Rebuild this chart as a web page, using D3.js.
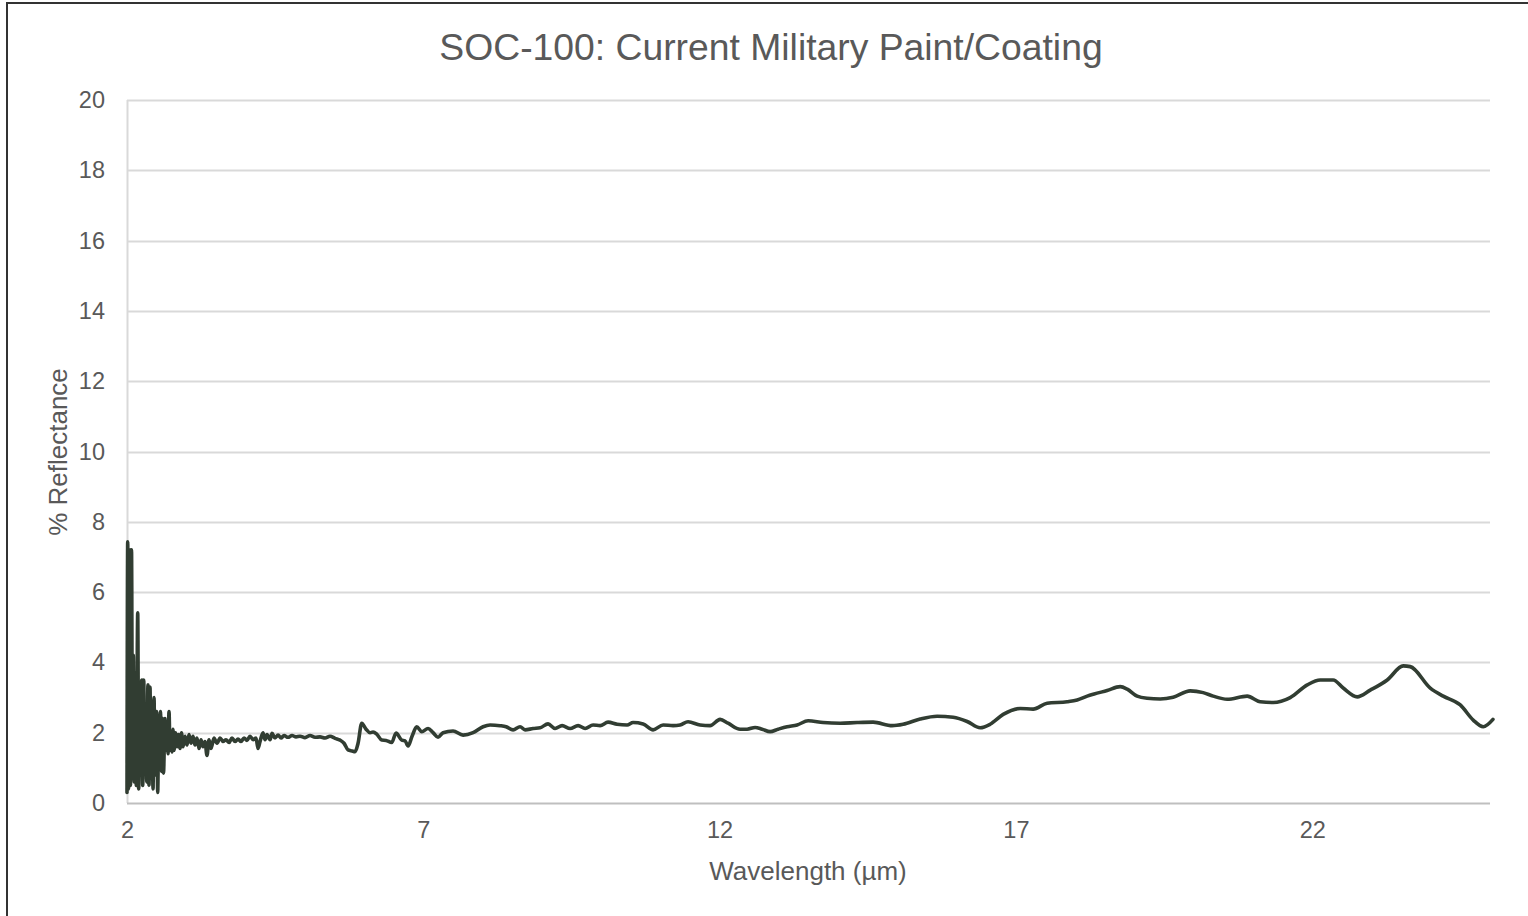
<!DOCTYPE html>
<html>
<head>
<meta charset="utf-8">
<script src="https://cdn.jsdelivr.net/npm/d3@7"></script>
<style>
  html, body { margin: 0; padding: 0; background: #ffffff; }
  svg { display: block; }
  text { font-family: "Liberation Sans", Arial, sans-serif; fill: #595959; }
</style>
</head>
<body>
<svg id="chart" width="1528" height="916"></svg>
<script>
// ---- Data ----
const chartTitle = "SOC-100: Current Military Paint/Coating";
const xAxisTitle = "Wavelength (\u00b5m)";
const yAxisTitle = "% Reflectance";
const xTicks = [2, 7, 12, 17, 22];
const yTicks = [0, 2, 4, 6, 8, 10, 12, 14, 16, 18, 20];

const wavelength = [
  2.000, 2.012, 2.025, 2.042, 2.059, 2.076, 2.093, 2.106, 2.123, 2.140,
  2.157, 2.181, 2.197, 2.214, 2.231, 2.248, 2.265, 2.282, 2.299, 2.316,
  2.332, 2.354, 2.371, 2.388, 2.405, 2.422, 2.439, 2.456, 2.473, 2.501,
  2.518, 2.535, 2.552, 2.565, 2.582, 2.599, 2.616, 2.641, 2.658, 2.675,
  2.692, 2.709, 2.726, 2.743, 2.760, 2.776, 2.793, 2.819, 2.844, 2.869,
  2.895, 2.920, 2.945, 2.979, 3.013, 3.046, 3.080, 3.114, 3.148, 3.181,
  3.215, 3.249, 3.282, 3.316, 3.350, 3.384, 3.418, 3.468, 3.519, 3.570,
  3.620, 3.671, 3.722, 3.772, 3.823, 3.873, 3.924, 3.975, 4.025, 4.076,
  4.127, 4.177, 4.211, 4.245, 4.295, 4.329, 4.363, 4.414, 4.447, 4.498,
  4.549, 4.599, 4.650, 4.717, 4.785, 4.852, 4.920, 5.004, 5.089, 5.173,
  5.257, 5.342, 5.426, 5.511, 5.595, 5.662, 5.730, 5.797, 5.848, 5.899,
  5.961, 6.034, 6.101, 6.152, 6.214, 6.299, 6.372, 6.467, 6.540, 6.636,
  6.692, 6.743, 6.810, 6.889, 6.974, 7.080, 7.165, 7.249, 7.333, 7.502,
  7.671, 7.840, 8.008, 8.127, 8.295, 8.397, 8.515, 8.633, 8.717, 8.852,
  8.970, 9.105, 9.224, 9.342, 9.477, 9.612, 9.730, 9.865, 9.983, 10.118,
  10.270, 10.439, 10.540, 10.709, 10.878, 11.046, 11.215, 11.333, 11.468, 11.671,
  11.840, 12.008, 12.143, 12.346, 12.464, 12.599, 12.717, 12.852, 12.987, 13.139,
  13.308, 13.494, 13.747, 14.034, 14.321, 14.591, 14.911, 15.097, 15.384, 15.671,
  15.941, 16.177, 16.397, 16.565, 16.785, 17.072, 17.291, 17.527, 17.865, 18.034,
  18.203, 18.320, 18.540, 18.760, 18.878, 19.046, 19.215, 19.435, 19.654, 19.941,
  20.160, 20.329, 20.565, 20.903, 21.122, 21.342, 21.629, 21.916, 22.135, 22.354,
  22.523, 22.759, 22.979, 23.266, 23.536, 23.654, 23.992, 24.211, 24.498, 24.717,
  24.886, 25.050
];

const reflectance = [
  0.30, 7.43, 0.40, 7.20, 0.50, 7.20, 0.70, 4.20, 0.60, 3.70,
  0.50, 5.41, 0.40, 3.00, 0.80, 3.50, 0.50, 3.50, 0.90, 2.80,
  0.60, 3.36, 0.50, 3.30, 0.70, 2.90, 0.40, 3.00, 0.80, 2.60,
  0.30, 2.20, 1.00, 2.60, 0.90, 2.40, 0.85, 2.40, 1.50, 2.20,
  1.40, 2.60, 1.50, 2.00, 1.45, 2.10, 1.50, 2.00, 1.60, 1.95,
  1.55, 2.00, 1.60, 1.90, 1.65, 1.95, 1.70, 1.90, 1.65, 1.85,
  1.55, 1.80, 1.60, 1.75, 1.35, 1.80, 1.55, 1.85, 1.70, 1.85,
  1.75, 1.80, 1.72, 1.85, 1.75, 1.82, 1.75, 1.85, 1.78, 1.90,
  1.80, 1.85, 1.55, 1.75, 2.00, 1.80, 1.95, 1.80, 1.98, 1.85,
  1.93, 1.85, 1.92, 1.87, 1.92, 1.88, 1.90, 1.86, 1.92, 1.87,
  1.88, 1.85, 1.90, 1.84, 1.79, 1.70, 1.51, 1.48, 1.46, 1.70,
  2.27, 2.10, 2.00, 2.02, 1.96, 1.79, 1.78, 1.72, 1.99, 1.79,
  1.77, 1.62, 1.90, 2.17, 2.03, 2.12, 2.00, 1.87, 2.00, 2.05,
  1.93, 2.00, 2.17, 2.22, 2.20, 2.17, 2.08, 2.17, 2.08, 2.12,
  2.14, 2.25, 2.12, 2.20, 2.12, 2.20, 2.12, 2.22, 2.20, 2.30,
  2.24, 2.22, 2.29, 2.25, 2.08, 2.22, 2.20, 2.22, 2.31, 2.22,
  2.20, 2.38, 2.27, 2.10, 2.10, 2.15, 2.10, 2.03, 2.10, 2.17,
  2.22, 2.34, 2.29, 2.27, 2.29, 2.30, 2.20, 2.24, 2.39, 2.47,
  2.44, 2.32, 2.14, 2.24, 2.52, 2.69, 2.67, 2.84, 2.88, 2.93,
  3.04, 3.10, 3.20, 3.31, 3.24, 3.04, 2.98, 2.96, 3.01, 3.19,
  3.14, 3.04, 2.95, 3.04, 2.88, 2.86, 3.00, 3.36, 3.50, 3.50,
  3.27, 3.02, 3.21, 3.50, 3.90, 3.88, 3.27, 3.04, 2.79, 2.36,
  2.17, 2.38
];

// ---- Layout ----
const W = 1528, H = 916;
const plot = { left: 127, right: 1490, top: 100, bottom: 803 };

const svg = d3.select("#chart");

const x = d3.scaleLinear().domain([2, 25]).range([plot.left, plot.right]);
const y = d3.scaleLinear().domain([0, 20]).range([plot.bottom, plot.top]);

// outer frame
svg.append("rect")
  .attr("x", 7).attr("y", 3)
  .attr("width", W + 20).attr("height", H + 20)
  .attr("fill", "none").attr("stroke", "#333333").attr("stroke-width", 2);

// horizontal gridlines
svg.append("g").selectAll("line")
  .data(yTicks.filter(d => d !== 0))
  .join("line")
  .attr("x1", plot.left).attr("x2", plot.right)
  .attr("y1", d => Math.round(y(d)) + 0.5).attr("y2", d => Math.round(y(d)) + 0.5)
  .attr("stroke", "#d9d9d9").attr("stroke-width", 2);

// left vertical axis line
svg.append("line")
  .attr("x1", plot.left + 0.5).attr("x2", plot.left + 0.5)
  .attr("y1", plot.top).attr("y2", plot.bottom)
  .attr("stroke", "#d9d9d9").attr("stroke-width", 2);

// bottom axis line
svg.append("line")
  .attr("x1", plot.left).attr("x2", plot.right)
  .attr("y1", Math.round(y(0)) + 0.5).attr("y2", Math.round(y(0)) + 0.5)
  .attr("stroke", "#bfbfbf").attr("stroke-width", 2);

// y tick labels
const yAxis = d3.axisLeft(y).tickValues(yTicks).tickSize(0).tickPadding(22);
const gy = svg.append("g").attr("transform", `translate(${plot.left},0)`).call(yAxis);
gy.select(".domain").remove();
gy.selectAll("text").style("font-size", "23.5px").attr("fill", "#595959")
  .style("font-family", '"Liberation Sans", Arial, sans-serif');

// x tick labels
const xAxis = d3.axisBottom(x).tickValues(xTicks).tickSize(0).tickPadding(18);
const gx = svg.append("g").attr("transform", `translate(0,${plot.bottom})`).call(xAxis);
gx.select(".domain").remove();
gx.selectAll("text").style("font-size", "23.5px").attr("fill", "#595959")
  .style("font-family", '"Liberation Sans", Arial, sans-serif');

// data line
const pts = wavelength.map((w, i) => [w, reflectance[i]]);
const line = d3.line()
  .x(d => x(d[0]))
  .y(d => y(d[1]))
  .curve(d3.curveMonotoneX);

svg.append("path")
  .datum(pts)
  .attr("d", line)
  .attr("fill", "none")
  .attr("stroke", "#313d32")
  .attr("stroke-width", 3.6)
  .attr("stroke-linejoin", "round")
  .attr("stroke-linecap", "round");

// title
svg.append("text")
  .attr("x", 771).attr("y", 60)
  .attr("text-anchor", "middle")
  .style("font-size", "37.3px")
  .text(chartTitle);

// x axis title
svg.append("text")
  .attr("x", 808).attr("y", 880)
  .attr("text-anchor", "middle")
  .style("font-size", "26px")
  .text(xAxisTitle);

// y axis title
svg.append("text")
  .attr("transform", "translate(67,452) rotate(-90)")
  .attr("text-anchor", "middle")
  .style("font-size", "26px")
  .text(yAxisTitle);
</script>
</body>
</html>
